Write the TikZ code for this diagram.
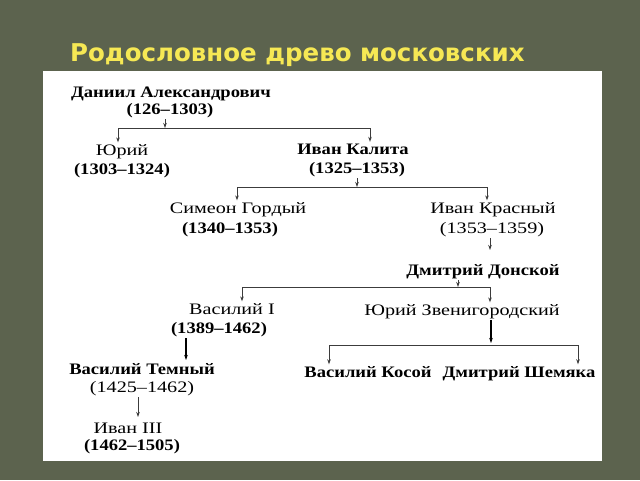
\documentclass[tikz,border=0pt]{standalone}
\usepackage{fontspec}
\setmainfont{Liberation Serif}
\newfontfamily\titlefont{DejaVu Sans}
\newfontfamily\regfont{Liberation Serif}[FakeStretch=1.26]
\newfontfamily\heavyfont{Liberation Serif}[FakeStretch=1.16]
\usetikzlibrary{arrows.meta}

\definecolor{slidebg}{RGB}{92,99,78}
\definecolor{titleyellow}{RGB}{246,232,84}
\definecolor{linegray}{RGB}{60,60,60}

\tikzset{
  ruler/.style={anchor=base, inner sep=1.5pt, font=\regfont\fontsize{16}{18}\selectfont},
  boldruler/.style={ruler, font=\heavyfont\bfseries\fontsize{16}{18}\selectfont},
  branch/.style={line width=0.8pt, linegray},
  arr/.style={branch, -{Stealth[length=5pt,width=3.5pt]}},
  thickarr/.style={arr, line width=1.7pt, black}
}

\begin{document}
\begin{tikzpicture}[x=1pt,y=-1pt]
\useasboundingbox (0,0) rectangle (640,480);
\fill[slidebg] (0,0) rectangle (640,480);
\fill[white] (43,71) rectangle (602,461);

\node[anchor=base west, inner sep=0, text=titleyellow,
  font=\titlefont\bfseries\fontsize{24.5}{28}\selectfont] (title) at (70,61)
  {Родословное древо московских};

% rulers
\node[boldruler] (dan) at (171,97) {Даниил Александрович};
\node[boldruler] (dany) at (170,114) {(126–1303)};
\node[ruler] (yuri) at (122,155) {Юрий};
\node[boldruler] (yuriy) at (122,174) {(1303–1324)};
\node[boldruler] (ivk) at (353,154) {Иван Калита};
\node[boldruler] (ivky) at (357,173) {(1325–1353)};
\node[ruler] (sim) at (238,213) {Симеон Гордый};
\node[boldruler] (simy) at (230,233) {(1340–1353)};
\node[ruler] (ivr) at (493,213) {Иван Красный};
\node[ruler] (ivry) at (492,233) {(1353–1359)};
\node[boldruler] (dmd) at (483,275) {Дмитрий Донской};
\node[ruler] (vas) at (232,314) {Василий I};
\node[boldruler] (vasy) at (219,333) {(1389–1462)};
\node[ruler] (yuz) at (462,315) {Юрий Звенигородский};
\node[boldruler] (vast) at (142,374) {Василий Темный};
\node[ruler] (vasty) at (142,392) {(1425–1462)};
\node[boldruler] (vask) at (368,377) {Василий Косой};
\node[boldruler] (dsh) at (519,377) {Дмитрий Шемяка};
\node[ruler] (iv3) at (128,433) {Иван III};
\node[boldruler] (iv3y) at (132,450) {(1462–1505)};

% branch points
\coordinate (j1) at (165,128);
\coordinate (l1) at (118,128);
\coordinate (r1) at (370,128);
\coordinate (j2) at (357,187);
\coordinate (l2) at (237,187);
\coordinate (r2) at (487,187);
\coordinate (j3) at (490,250);
\coordinate (j4) at (458,287);
\coordinate (l4) at (242,287);
\coordinate (r4) at (490,287);
\coordinate (j5) at (491,343);
\coordinate (l5) at (329,345);
\coordinate (r5) at (578,345);
\coordinate (j6) at (186,360);
\coordinate (j7) at (138,417);

\draw[arr] (dany.south -| j1) -- (j1);
\draw[branch] (l1) -- (r1);
\draw[arr] (l1) -- (yuri.north -| l1);
\draw[arr] (r1) -- (ivk.north -| r1);

\draw[arr] (ivky.south -| j2) -- (j2);
\draw[branch] (l2) -- (r2);
\draw[arr] (l2) -- (sim.north -| l2);
\draw[arr] (r2) -- (ivr.north -| r2);

\draw[arr] (ivry.south -| j3) -- (j3);
\draw[arr] (dmd.south -| j4) -- (j4);
\draw[branch] (l4) -- (r4);
\draw[arr] (l4) -- (vas.north -| l4);
\draw[arr] (r4) -- (yuz.north -| r4);

\draw[thickarr] (yuz.south -| j5) -- (j5);
\draw[branch] (l5) -- (r5);
\draw[arr] (l5) -- (vask.north -| l5);
\draw[arr] (r5) -- (dsh.north -| r5);

\draw[thickarr] (vasy.south -| j6) -- (j6);
\draw[arr] (vasty.south -| j7) -- (j7);
\end{tikzpicture}
\end{document}
